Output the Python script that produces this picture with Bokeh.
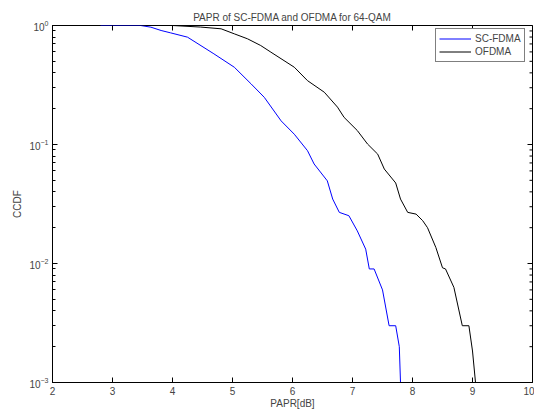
import math
from bokeh.plotting import figure
from bokeh.models import Legend, FixedTicker, LogTicker
from bokeh.embed import file_html
from bokeh.resources import INLINE

# SC-FDMA CCDF curve
papr_sc = [2.80, 3.47, 3.64, 3.81, 3.97, 4.25, 4.69, 5.03, 5.31, 5.53, 5.81, 6.03,
           6.25, 6.36, 6.58, 6.67, 6.78, 6.94, 7.08, 7.22, 7.28, 7.36, 7.50, 7.61,
           7.72, 7.78, 7.80, 7.92]
ccdf_sc = [1.0, 1.0, 0.968, 0.908, 0.867, 0.798, 0.578, 0.446, 0.323, 0.249, 0.158, 0.122,
           0.0887, 0.0686, 0.0495, 0.0348, 0.0269, 0.0252, 0.0188, 0.0132, 0.009, 0.009, 0.006, 0.003,
           0.003, 0.002, 0.001, 0.001]

# OFDMA CCDF curve
papr_of = [4.00, 4.47, 4.81, 5.03, 5.25, 5.47, 5.64, 6.03, 6.25, 6.53, 6.75, 6.86,
           7.08, 7.25, 7.42, 7.53, 7.72, 7.80, 7.92, 8.06, 8.17, 8.25, 8.39, 8.50,
           8.55, 8.69, 8.83, 8.94, 9.00, 9.05, 9.17]
ccdf_of = [1.0, 0.97, 0.938, 0.851, 0.773, 0.679, 0.597, 0.446, 0.344, 0.275, 0.206, 0.169,
           0.131, 0.101, 0.083, 0.0622, 0.0475, 0.0348, 0.0269, 0.026, 0.0229, 0.020, 0.0136, 0.0092,
           0.009, 0.0063, 0.003, 0.003, 0.00184, 0.001, 0.001]

x_ticks = [2, 3, 4, 5, 6, 7, 8, 9, 10]
y_major = [1e-3, 1e-2, 1e-1, 1.0]
y_minor = [m * 10.0 ** k for k in (-3, -2, -1) for m in range(2, 10)]
series_names = ["SC-FDMA", "OFDMA"]
title_text = "PAPR of SC-FDMA and OFDMA for 64-QAM"
x_lo, x_hi = 2, 10
y_lo, y_hi = 1e-3, 1.0

FONT = "Liberation Sans"

p = figure(frame_width=480, frame_height=357, y_axis_type="log",
           x_range=(x_lo, x_hi), y_range=(y_lo, y_hi),
           output_backend="svg", toolbar_location=None, title=title_text,
           min_border_left=52, min_border_right=2, min_border_top=25, min_border_bottom=0)

p.background_fill_color = "white"
p.border_fill_color = "white"
p.outline_line_color = "black"
p.outline_line_width = 1
p.xgrid.visible = False
p.ygrid.visible = False

p.title.text_font = FONT
p.title.text_font_size = "10px"
p.title.text_font_style = "normal"
p.title.align = "center"
p.title.standoff = 5

r1 = p.line(papr_sc, ccdf_sc, line_color="#0000ff", line_width=1)
r2 = p.line(papr_of, ccdf_of, line_color="#000000", line_width=1)

# bottom axis
xa = p.xaxis[0]
xa.ticker = FixedTicker(ticks=x_ticks)
xa.axis_label = "PAPR[dB]"
xa.major_tick_in = 5
xa.major_tick_out = 0
xa.minor_tick_line_color = None
xa.major_label_standoff = 4
xa.axis_label_standoff = 0
xa.major_label_text_font = FONT
xa.major_label_text_font_size = "10px"
xa.axis_label_text_font = FONT
xa.axis_label_text_font_size = "10px"
xa.axis_label_text_font_style = "normal"

# left axis
ya = p.yaxis[0]
ya.ticker = LogTicker(num_minor_ticks=10)
ya.axis_label = "CCDF"
ya.major_tick_in = 5
ya.major_tick_out = 0
ya.minor_tick_in = 3
ya.minor_tick_out = 0
ya.major_label_standoff = 4
ya.axis_label_standoff = 3
ya.major_label_text_font = FONT
ya.major_label_text_font_size = "10px"
ya.axis_label_text_font = FONT
ya.axis_label_text_font_size = "10px"
ya.axis_label_text_font_style = "normal"

# top and right tick marks (markers clipped by frame, half visible inside)
p.scatter(x=x_ticks, y=[y_hi] * len(x_ticks), marker="dash", angle=math.pi / 2,
          size=10, line_color="black", line_width=1)
p.scatter(x=[x_hi] * len(y_major), y=y_major, marker="dash",
          size=10, line_color="black", line_width=1)
p.scatter(x=[x_hi] * len(y_minor), y=y_minor, marker="dash",
          size=6, line_color="black", line_width=1)

legend = Legend(items=[(series_names[0], [r1]), (series_names[1], [r2])],
                location=(383, 320))
legend.margin = 0
legend.padding = 3
legend.spacing = 0
legend.glyph_width = 32
legend.glyph_height = 13
legend.label_standoff = 4
legend.label_height = 13
legend.label_text_font = FONT
legend.label_text_font_size = "10px"
legend.border_line_color = "black"
legend.border_line_width = 1
legend.background_fill_color = "white"
legend.background_fill_alpha = 1
p.add_layout(legend)

open("out.html", "w").write(file_html(p, INLINE))
